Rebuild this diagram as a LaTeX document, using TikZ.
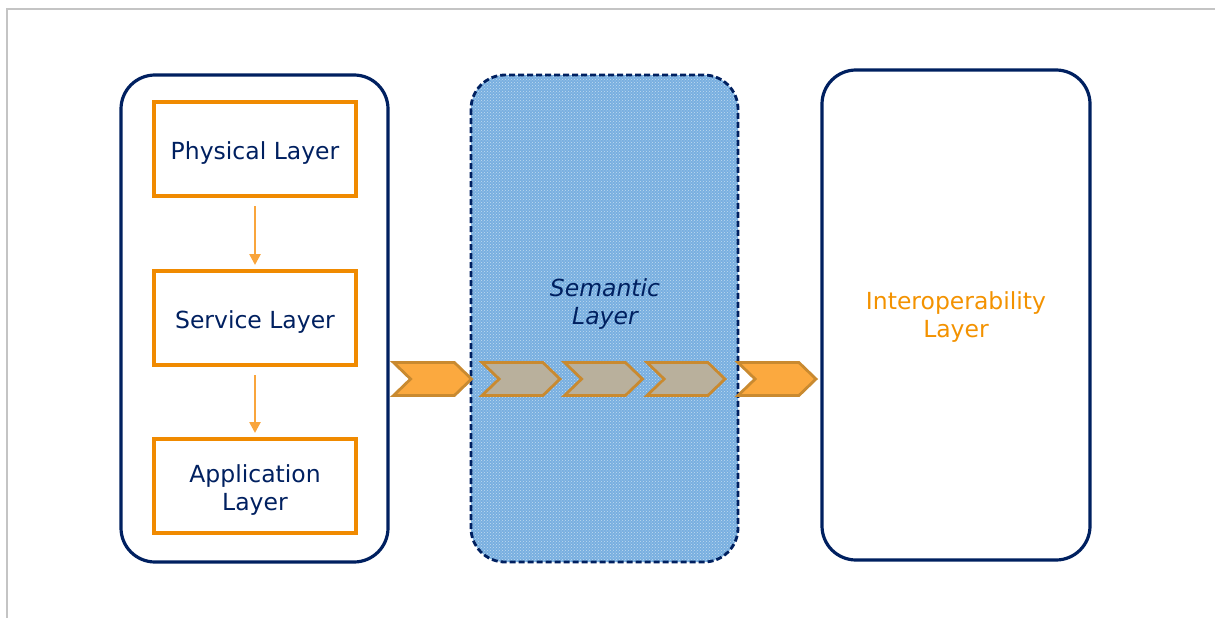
\documentclass[tikz,border=0pt]{standalone}
\usepackage{fontspec}
\setmainfont{DejaVu Sans}
\usetikzlibrary{arrows.meta,shapes.symbols,patterns}
\definecolor{navy}{HTML}{002060}
\definecolor{orng}{HTML}{F08A00}
\definecolor{lightorng}{HTML}{F9A53C}
\definecolor{chevfill}{HTML}{FBA93F}
\definecolor{chevline}{HTML}{C98A30}
\definecolor{chevmid}{HTML}{B9B09C}
\definecolor{semfill}{HTML}{78AFE0}
\definecolor{interorng}{HTML}{F39200}
\definecolor{framegray}{HTML}{C4C4C4}
\tikzset{
  outerbox/.style={draw=navy, line width=3.2pt, rounded corners=34pt},
  layertext/.style={font=\fontsize{23.5}{28}\selectfont, align=center},
  layerbox/.style={draw=orng, line width=4pt, fill=white, minimum width=202pt, minimum height=94pt, inner sep=0pt},
  layerlabel/.style={layertext, text=navy},
  flowarrow/.style={draw=lightorng, line width=2.5pt, -{Triangle[width=11pt,length=11pt]}, shorten <=8pt, shorten >=4pt},
  chev/.style={signal, signal to=east, signal from=west, signal pointer angle=88, draw=chevline, line width=2.8pt, minimum width=78pt, minimum height=33pt, inner sep=0pt},
  chevend/.style={chev, fill=chevfill},
  chevin/.style={chev, fill=chevmid},
}
\begin{document}
\begin{tikzpicture}[x=1pt,y=-1pt]
\useasboundingbox (0,0) rectangle (1215,618);
% page frame
\draw[framegray, line width=2pt] (7,618) -- (7,9) -- (1215,9);
% outer containers
\draw[outerbox] (121,75) rectangle (388,562);
\fill[semfill, rounded corners=34pt] (471,75) rectangle (738,562);
\fill[pattern=crosshatch dots, pattern color=white!55!semfill, rounded corners=34pt] (471,75) rectangle (738,562);
\draw[draw=navy, line width=2.8pt, dash pattern=on 6pt off 3pt, rounded corners=34pt] (471,75) rectangle (738,562);
\draw[outerbox] (822,70) rectangle (1090,560);
% layer boxes
\node[layerbox] (phys) at (255,149) {};
\node[layerbox] (serv) at (255,318) {};
\node[layerbox] (app) at (255,486) {};
\node[layerlabel] (physt) at ([yshift=-4pt]phys.center) {Physical Layer};
\node[layerlabel] (servt) at ([yshift=-4pt]serv.center) {Service Layer};
\node[layerlabel] (appt) at ([yshift=-4pt]app.center) {Application\\Layer};
\draw[flowarrow] (phys.south) -- (serv.north);
\draw[flowarrow] (serv.south) -- (app.north);
% texts
\node[layertext, text=navy, font=\fontsize{23.5}{28}\selectfont\itshape] (sem) at (605,304) {Semantic\\Layer};
\node[layertext, text=interorng] (inter) at (956,317) {Interoperability\\Layer};
% chevrons
\node[chevend] (c1) at (432.5,379) {};
\node[chevin] (c2) at (521,379) {};
\node[chevin] (c3) at (603.5,379) {};
\node[chevin] (c4) at (686,379) {};
\node[chevend] (c5) at (777,379) {};
\end{tikzpicture}
\end{document}
